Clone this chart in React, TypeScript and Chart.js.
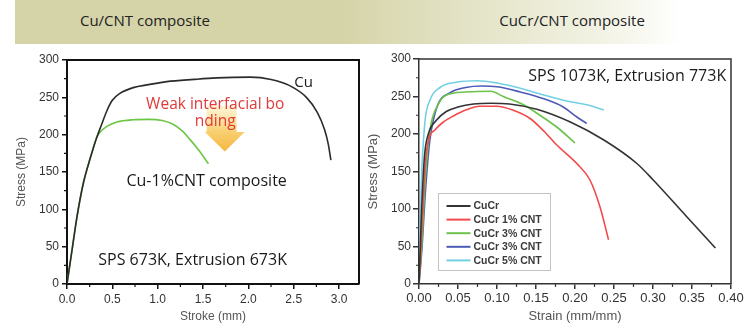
import React, { useEffect, useRef } from "react";
import { Chart, registerables } from "chart.js";

Chart.register(...registerables);

// ---------- Left chart data (Cu/CNT composite) ----------
const cuStroke = [0, 0.055, 0.11, 0.18, 0.26, 0.33, 0.38, 0.44, 0.5, 0.58, 0.73, 0.9, 1.1, 1.4, 1.65, 2.02, 2.25, 2.45, 2.64, 2.76, 2.84, 2.88, 2.91];
const cuStress = [0, 45, 90, 135, 170, 197, 213, 232, 246, 255, 263, 267, 271, 274, 276, 277, 274, 266, 250, 230, 207, 188, 166];
const cuCntStroke = [0, 0.055, 0.11, 0.18, 0.26, 0.33, 0.367, 0.44, 0.55, 0.73, 0.9, 1.05, 1.17, 1.27, 1.36, 1.46, 1.56];
const cuCntStress = [0, 45, 90, 135, 170, 197, 203.5, 211, 217, 220, 220.5, 219, 214, 205, 193, 178, 161];

const leftXTicksMinor = [0.25, 0.75, 1.25, 1.75, 2.25, 2.75];
const stressMinor = [25, 75, 125, 175, 225, 275];

// ---------- Right chart data (CuCr/CNT composite) ----------
const legendLabels = ["CuCr", "CuCr 1% CNT", "CuCr 3% CNT", "CuCr 3% CNT", "CuCr 5% CNT"];
const cucrStrain = [0, 0.003, 0.007, 0.012, 0.022, 0.035, 0.05, 0.07, 0.092, 0.116, 0.151, 0.194, 0.237, 0.279, 0.3, 0.343, 0.38];
const cucrStress = [0, 90, 170, 200, 218, 230, 236, 240, 241, 240, 233, 216, 192, 161, 139, 90, 48];
const cnt1Strain = [0, 0.004, 0.008, 0.013, 0.02, 0.03, 0.044, 0.06, 0.078, 0.1, 0.12, 0.142, 0.16, 0.177, 0.202, 0.219, 0.232, 0.243];
const cnt1Stress = [0, 80, 160, 195, 205, 215, 224, 232, 237, 237, 232, 221, 204, 185, 161, 139, 103, 59];
const cnt3aStrain = [0, 0.004, 0.008, 0.014, 0.025, 0.035, 0.06, 0.092, 0.108, 0.134, 0.155, 0.177, 0.2];
const cnt3aStress = [0, 60, 140, 205, 240, 252, 256, 257, 250, 239, 225, 209, 188];
const cnt3bStrain = [0, 0.004, 0.008, 0.014, 0.023, 0.04, 0.06, 0.08, 0.1, 0.13, 0.16, 0.185, 0.202, 0.215];
const cnt3bStress = [0, 50, 120, 192, 236, 255, 262, 264, 263, 256, 247, 236, 223, 214];
const cnt5Strain = [0, 0.001, 0.003, 0.0074, 0.014, 0.027, 0.048, 0.075, 0.1, 0.13, 0.16, 0.194, 0.215, 0.237];
const cnt5Stress = [0, 45, 134, 214, 245, 262, 269, 271, 268, 261, 252, 243, 239, 232];

const rightXTicksMinor = [0.025, 0.075, 0.125, 0.175, 0.225, 0.275, 0.325, 0.375];

const pts = (xs: number[], ys: number[]) => xs.map((x, i) => ({ x, y: ys[i] }));

const CAL = '"Open Sans", "Liberation Sans", sans-serif';
const ARIAL = '"Liberation Sans", Arial, sans-serif';

type Note = { text: string; x: number; y: number; size: number; color: string };

const notesPlugin = (notes: Note[]) => ({
  id: "notes",
  afterDatasetsDraw(chart: any) {
    const { ctx, scales } = chart;
    ctx.save();
    ctx.textAlign = "center";
    ctx.textBaseline = "middle";
    notes.forEach((n) => {
      ctx.font = `${n.size}px ${CAL}`;
      ctx.fillStyle = n.color;
      ctx.fillText(n.text, scales.x.getPixelForValue(n.x), scales.y.getPixelForValue(n.y));
    });
    ctx.restore();
  },
});

const framePlugin = (color: string, width: number, minorX: number[], minorY: number[]) => ({
  id: "frame",
  afterDraw(chart: any) {
    const { ctx, chartArea: a, scales } = chart;
    ctx.save();
    ctx.strokeStyle = color;
    ctx.lineWidth = width;
    ctx.beginPath();
    ctx.moveTo(a.left, a.top);
    ctx.lineTo(a.right, a.top);
    ctx.lineTo(a.right, a.bottom);
    ctx.stroke();
    ctx.lineWidth = 1.2;
    ctx.beginPath();
    minorX.forEach((v) => {
      const px = scales.x.getPixelForValue(v);
      ctx.moveTo(px, a.bottom);
      ctx.lineTo(px, a.bottom + 3);
    });
    minorY.forEach((v) => {
      const py = scales.y.getPixelForValue(v);
      ctx.moveTo(a.left, py);
      ctx.lineTo(a.left - 3, py);
    });
    ctx.stroke();
    ctx.restore();
  },
});

const arrowPlugin = {
  id: "arrow",
  beforeDatasetsDraw(chart: any) {
    const { ctx, scales } = chart;
    const X = (v: number) => scales.x.getPixelForValue(v);
    const Y = (v: number) => scales.y.getPixelForValue(v);
    const bl = X(1.54), br = X(1.87), hl = X(1.52), hr = X(1.96), cx = X(1.74);
    const top = Y(239), neck = Y(203.5), tip = Y(177.5);
    const g = ctx.createLinearGradient(0, top, 0, tip);
    g.addColorStop(0, "rgba(250,225,140,0.35)");
    g.addColorStop(0.55, "rgba(247,200,90,0.85)");
    g.addColorStop(1, "rgba(244,178,55,0.95)");
    ctx.save();
    ctx.fillStyle = g;
    ctx.beginPath();
    ctx.moveTo(bl, top);
    ctx.lineTo(br, top);
    ctx.lineTo(br, neck);
    ctx.lineTo(hr, neck);
    ctx.lineTo(cx, tip);
    ctx.lineTo(hl, neck);
    ctx.lineTo(bl, neck);
    ctx.closePath();
    ctx.fill();
    ctx.restore();
  },
};

const legendPlugin = {
  id: "boxLegend",
  afterDatasetsDraw(chart: any) {
    const { ctx, chartArea: a } = chart;
    const bx = Math.round(a.left + 19) + 0.5;
    const by = Math.round(a.top + 134) + 0.5;
    const bw = 112, bh = 77;
    ctx.save();
    ctx.fillStyle = "#fff";
    ctx.fillRect(bx, by, bw, bh);
    ctx.strokeStyle = "#c4c4c4";
    ctx.lineWidth = 1;
    ctx.strokeRect(bx, by, bw, bh);
    ctx.font = `bold 10.5px ${ARIAL}`;
    ctx.textBaseline = "middle";
    ctx.textAlign = "left";
    chart.data.datasets.forEach((ds: any, i: number) => {
      const y = by + 12.5 + i * 13.6;
      ctx.strokeStyle = ds.borderColor;
      ctx.lineWidth = 2;
      ctx.beginPath();
      ctx.moveTo(bx + 8, y);
      ctx.lineTo(bx + 32, y);
      ctx.stroke();
      ctx.fillStyle = "#3a3a3a";
      ctx.fillText(ds.label, bx + 35, y + 0.5);
    });
    ctx.restore();
  },
};

const lineDs = (label: string, data: any[], color: string) => ({
  label,
  data,
  borderColor: color,
  backgroundColor: color,
  borderWidth: 1.6,
  showLine: true,
  pointRadius: 0,
  fill: false,
  cubicInterpolationMode: "monotone" as const,
});

const mkTicks = (fontSize: number, pad: number, step: number, fmt: (v: number) => string) => ({
  font: { family: ARIAL, size: fontSize },
  color: "#333",
  padding: pad,
  maxRotation: 0,
  autoSkip: false,
  includeBounds: false,
  stepSize: step,
  callback: (v: any) => fmt(Number(v)),
});

const mkAxis = (
  min: number,
  max: number,
  ticks: any,
  color: string,
  borderW: number,
  tickLen: number,
  title: string,
  titleSize: number,
  titlePad: any,
  fit: (s: any) => void
) => ({
  type: "linear" as const,
  min,
  max,
  afterFit: fit,
  ticks,
  grid: { drawOnChartArea: false, drawTicks: true, tickLength: tickLen, color, lineWidth: 1.5 },
  border: { display: true, color, width: borderW },
  title: { display: true, text: title, font: { family: ARIAL, size: titleSize }, color: "#555", padding: titlePad },
});

function leftConfig(): any {
  return {
    type: "scatter",
    data: {
      datasets: [
        lineDs("Cu", pts(cuStroke, cuStress), "#2b2b2b"),
        lineDs("Cu-1%CNT composite", pts(cuCntStroke, cuCntStress), "#6cc644"),
      ],
    },
    options: {
      responsive: false,
      animation: false,
      devicePixelRatio: 1,
      layout: { padding: { top: 60, right: 3, left: 0, bottom: 0 } },
      plugins: { legend: { display: false }, tooltip: { enabled: false } },
      scales: {
        x: mkAxis(0, 3.22, mkTicks(12, 3, 0.5, (v) => v.toFixed(1)), "#111", 2, 5, "Stroke (mm)", 12, { top: 0, bottom: 5 }, (s) => { s.height = 45; }),
        y: mkAxis(0, 300, mkTicks(12, 3, 50, (v) => String(Math.round(v))), "#111", 2, 5, "Stress (MPa)", 12, { top: 14.5, bottom: 0 }, (s) => { s.width = 67; }),
      },
    },
    plugins: [
      arrowPlugin,
      framePlugin("#111", 2, leftXTicksMinor, stressMinor),
      notesPlugin([
        { text: "Cu", x: 2.61, y: 270, size: 15, color: "#1a1a1a" },
        { text: "Weak interfacial bo", x: 1.635, y: 240.5, size: 15.5, color: "#e03a3a" },
        { text: "nding", x: 1.635, y: 218, size: 15.5, color: "#e03a3a" },
        { text: "Cu-1%CNT composite", x: 1.54, y: 136.7, size: 16, color: "#1a1a1a" },
        { text: "SPS 673K, Extrusion 673K", x: 1.385, y: 32, size: 16, color: "#1a1a1a" },
      ]),
    ],
  };
}

function rightConfig(): any {
  const fmtX = (v: number) => v.toFixed(2);
  const fmtY = (v: number) => String(Math.round(v));
  return {
    type: "scatter",
    data: {
      datasets: [
        lineDs(legendLabels[0], pts(cucrStrain, cucrStress), "#333333"),
        lineDs(legendLabels[1], pts(cnt1Strain, cnt1Stress), "#f24a4a"),
        lineDs(legendLabels[2], pts(cnt3aStrain, cnt3aStress), "#6cc24a"),
        lineDs(legendLabels[3], pts(cnt3bStrain, cnt3bStress), "#4d5bb8"),
        lineDs(legendLabels[4], pts(cnt5Strain, cnt5Stress), "#72d0e2"),
      ],
    },
    options: {
      responsive: false,
      animation: false,
      devicePixelRatio: 1,
      layout: { padding: { top: 59, right: 25, left: 0, bottom: 0 } },
      plugins: { legend: { display: false }, tooltip: { enabled: false } },
      scales: {
        x: mkAxis(0, 0.4, mkTicks(13, 2, 0.05, fmtX), "#333", 1.5, 5, "Strain (mm/mm)", 13, { top: 0, bottom: 4.5 }, (s) => { s.height = 45; }),
        y: mkAxis(0, 300, mkTicks(12, 2, 50, fmtY), "#333", 1.5, 6, "Stress (MPa)", 13, { top: 4, bottom: 0 }, (s) => { s.width = 57; }),
      },
    },
    plugins: [
      framePlugin("#333", 1.5, rightXTicksMinor, stressMinor),
      legendPlugin,
      notesPlugin([{ text: "SPS 1073K, Extrusion 773K", x: 0.267, y: 277, size: 16, color: "#1a1a1a" }]),
    ],
  };
}

function ChartCanvas(props: { make: () => any; left: number; width: number; height: number }) {
  const ref = useRef<HTMLCanvasElement>(null);
  useEffect(() => {
    const chart = new Chart(ref.current as HTMLCanvasElement, props.make());
    return () => chart.destroy();
  }, []);
  return (
    <canvas
      ref={ref}
      width={props.width}
      height={props.height}
      style={{ position: "absolute", left: props.left, top: 0, width: props.width, height: props.height }}
    />
  );
}

export default function App() {
  const headText: React.CSSProperties = {
    position: "absolute",
    top: 20,
    transform: "translate(-50%, -50%)",
    whiteSpace: "nowrap",
    fontFamily: CAL,
    fontSize: 15,
    color: "#222",
  };
  return (
    <div style={{ position: "fixed", left: 0, top: 0, width: 756, height: 329, background: "#fff", overflow: "hidden" }}>
      <div
        style={{
          position: "absolute",
          left: 15,
          top: 0,
          width: 741,
          height: 44,
          background:
            "linear-gradient(to right, #d5d4a8 0%, #d5d4a8 44%, #e4e4c8 62%, #f3f3e6 80%, #ffffff 90%, #ffffff 100%)",
        }}
      />
      <div style={{ ...headText, left: 145 }}>Cu/CNT composite</div>
      <div style={{ ...headText, left: 572 }}>CuCr/CNT composite</div>
      <ChartCanvas make={leftConfig} left={0} width={362} height={329} />
      <ChartCanvas make={rightConfig} left={362} width={394} height={329} />
    </div>
  );
}
